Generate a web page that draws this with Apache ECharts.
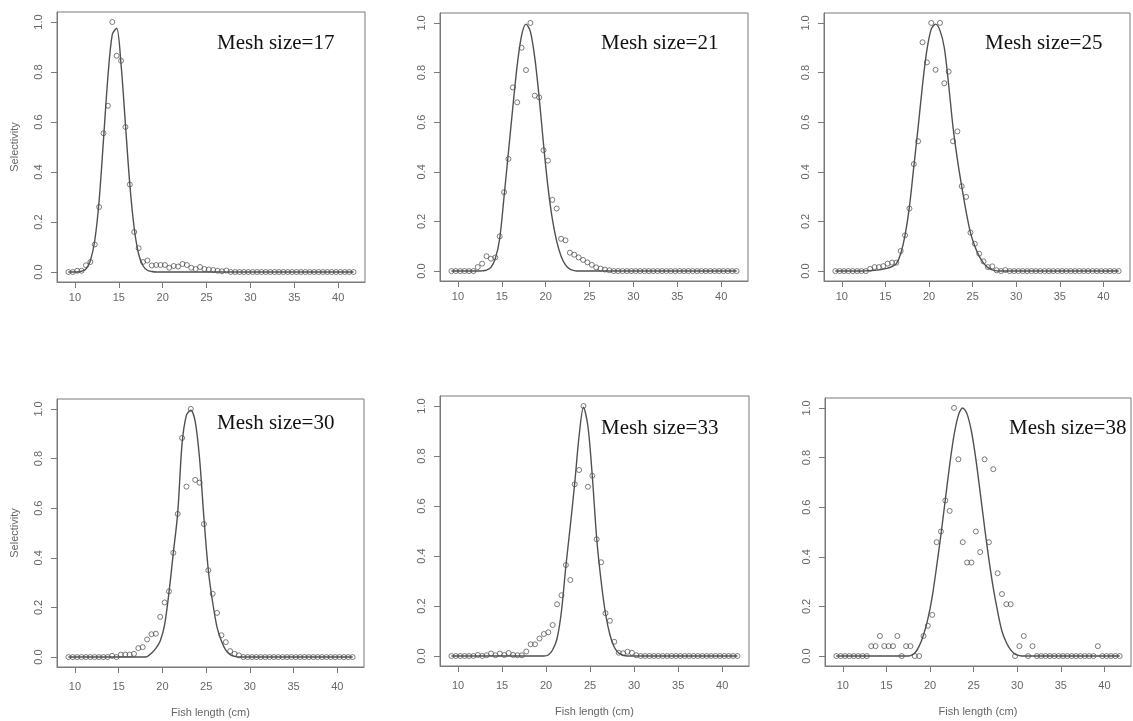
<!DOCTYPE html>
<html>
<head>
<meta charset="utf-8">
<script src="https://cdn.jsdelivr.net/npm/echarts@6/dist/echarts.min.js"></script>
<style>
  html, body { margin: 0; padding: 0; background: #ffffff; }
  #chart { width: 1133px; height: 721px; }
</style>
</head>
<body>
<div id="chart"></div>
<script>
// Fish length classes (cm), mid-points of 0.5 cm bins
const lengths = [
  9.25, 9.75, 10.25, 10.75, 11.25, 11.75, 12.25, 12.75, 13.25, 13.75,
  14.25, 14.75, 15.25, 15.75, 16.25, 16.75, 17.25, 17.75, 18.25, 18.75,
  19.25, 19.75, 20.25, 20.75, 21.25, 21.75, 22.25, 22.75, 23.25, 23.75,
  24.25, 24.75, 25.25, 25.75, 26.25, 26.75, 27.25, 27.75, 28.25, 28.75,
  29.25, 29.75, 30.25, 30.75, 31.25, 31.75, 32.25, 32.75, 33.25, 33.75,
  34.25, 34.75, 35.25, 35.75, 36.25, 36.75, 37.25, 37.75, 38.25, 38.75,
  39.25, 39.75, 40.25, 40.75, 41.25, 41.75
];

const meshSizes = [17, 21, 25, 30, 33, 38];

// Observed relative selectivity per mesh size
const obs17 = [
  0, 0, 0.005, 0.005, 0.027, 0.04, 0.11, 0.26, 0.555, 0.665,
  1.0, 0.865, 0.845, 0.58, 0.35, 0.16, 0.095, 0.04, 0.046, 0.026,
  0.028, 0.028, 0.028, 0.017, 0.024, 0.022, 0.032, 0.028, 0.017, 0.012,
  0.02, 0.012, 0.01, 0.008, 0.005, 0.003, 0.006, 0, 0, 0,
  0, 0, 0, 0, 0, 0, 0, 0, 0, 0,
  0, 0, 0, 0, 0, 0, 0, 0, 0, 0,
  0, 0, 0, 0, 0, 0
];
const obs21 = [
  0, 0, 0, 0, 0, 0, 0.016, 0.03, 0.06, 0.05,
  0.055, 0.14, 0.318, 0.452, 0.74, 0.68, 0.9, 0.81, 1.0, 0.707,
  0.70, 0.487, 0.445, 0.287, 0.252, 0.13, 0.124, 0.074, 0.066, 0.055,
  0.045, 0.035, 0.025, 0.015, 0.01, 0.006, 0.003, 0, 0, 0,
  0, 0, 0, 0, 0, 0, 0, 0, 0, 0,
  0, 0, 0, 0, 0, 0, 0, 0, 0, 0,
  0, 0, 0, 0, 0, 0
];
const obs25 = [
  0, 0, 0, 0, 0, 0, 0, 0, 0.009, 0.016,
  0.016, 0.02, 0.03, 0.034, 0.034, 0.081, 0.144, 0.252, 0.431, 0.523,
  0.922, 0.841, 1.0, 0.811, 1.0, 0.757, 0.804, 0.523, 0.563, 0.342,
  0.299, 0.155, 0.11, 0.07, 0.039, 0.016, 0.019, 0.003, 0, 0.004,
  0, 0, 0, 0, 0, 0, 0, 0, 0, 0,
  0, 0, 0, 0, 0, 0, 0, 0, 0, 0,
  0, 0, 0, 0, 0, 0
];
const obs30 = [
  0, 0, 0, 0, 0, 0, 0, 0, 0, 0,
  0.005, 0, 0.01, 0.01, 0.01, 0.013, 0.036, 0.04, 0.071, 0.092,
  0.094, 0.162, 0.22, 0.265, 0.42, 0.577, 0.883, 0.687, 1.0, 0.714,
  0.703, 0.536, 0.35, 0.255, 0.178, 0.088, 0.06, 0.024, 0.013, 0.007,
  0, 0, 0, 0, 0, 0, 0, 0, 0, 0,
  0, 0, 0, 0, 0, 0, 0, 0, 0, 0,
  0, 0, 0, 0, 0, 0
];
const obs33 = [
  0, 0, 0, 0, 0, 0, 0.004, 0, 0.003, 0.01,
  0.003, 0.01, 0.004, 0.012, 0.004, 0.003, 0.003, 0.018, 0.047, 0.047,
  0.07, 0.088, 0.095, 0.124, 0.207, 0.243, 0.364, 0.304, 0.687, 0.744,
  1.0, 0.677, 0.721, 0.467, 0.375, 0.171, 0.141, 0.057, 0.013, 0.011,
  0.017, 0.013, 0.003, 0, 0, 0, 0, 0, 0, 0,
  0, 0, 0, 0, 0, 0, 0, 0, 0, 0,
  0, 0, 0, 0, 0, 0
];
const obs38 = [
  0, 0, 0, 0, 0, 0, 0, 0, 0.04, 0.04,
  0.081, 0.04, 0.04, 0.04, 0.081, 0, 0.04, 0.04, 0, 0,
  0.081, 0.122, 0.166, 0.459, 0.502, 0.627, 0.585, 1.0, 0.793, 0.459,
  0.377, 0.377, 0.502, 0.419, 0.793, 0.459, 0.753, 0.334, 0.25, 0.209,
  0.209, 0, 0.04, 0.081, 0, 0.04, 0, 0, 0, 0,
  0, 0, 0, 0, 0, 0, 0, 0, 0, 0,
  0.04, 0, 0, 0, 0, 0
];

// Fitted selectivity curves per mesh size
const fit17 = [
  0, 0, 0, 0.003, 0.012, 0.045, 0.125, 0.285, 0.53, 0.78,
  0.95, 0.975, 0.83, 0.59, 0.35, 0.175, 0.072, 0.025, 0.007, 0.002,
  0, 0, 0, 0, 0, 0, 0, 0, 0, 0,
  0, 0, 0, 0, 0, 0, 0, 0, 0, 0,
  0, 0, 0, 0, 0, 0, 0, 0, 0, 0,
  0, 0, 0, 0, 0, 0, 0, 0, 0, 0,
  0, 0, 0, 0, 0, 0
];
const fit21 = [
  0, 0, 0, 0, 0, 0, 0, 0.001, 0.004, 0.015,
  0.05, 0.13, 0.30, 0.48, 0.66, 0.83, 0.95, 0.995, 0.965, 0.86,
  0.70, 0.51, 0.34, 0.21, 0.12, 0.06, 0.025, 0.008, 0.002, 0,
  0, 0, 0, 0, 0, 0, 0, 0, 0, 0,
  0, 0, 0, 0, 0, 0, 0, 0, 0, 0,
  0, 0, 0, 0, 0, 0, 0, 0, 0, 0,
  0, 0, 0, 0, 0, 0
];
const fit25 = [
  0, 0, 0, 0, 0, 0, 0, 0.001, 0.002, 0.003,
  0.005, 0.008, 0.012, 0.018, 0.03, 0.07, 0.145, 0.26, 0.42, 0.58,
  0.75, 0.89, 0.975, 0.995, 0.97, 0.90, 0.75, 0.58, 0.45, 0.34,
  0.24, 0.155, 0.10, 0.06, 0.032, 0.014, 0.005, 0.001, 0, 0,
  0, 0, 0, 0, 0, 0, 0, 0, 0, 0,
  0, 0, 0, 0, 0, 0, 0, 0, 0, 0,
  0, 0, 0, 0, 0, 0
];
const fit30 = [
  0, 0, 0, 0, 0, 0, 0, 0, 0, 0,
  0, 0, 0, 0, 0, 0, 0, 0, 0.002, 0.015,
  0.035, 0.065, 0.13, 0.26, 0.42, 0.58, 0.86, 0.975, 0.995, 0.95,
  0.80, 0.56, 0.35, 0.22, 0.12, 0.065, 0.028, 0.01, 0.003, 0,
  0, 0, 0, 0, 0, 0, 0, 0, 0, 0,
  0, 0, 0, 0, 0, 0, 0, 0, 0, 0,
  0, 0, 0, 0, 0, 0
];
const fit33 = [
  0, 0, 0, 0, 0, 0, 0, 0, 0, 0,
  0, 0, 0, 0, 0, 0, 0, 0, 0, 0,
  0, 0, 0.004, 0.025, 0.07, 0.18, 0.36, 0.52, 0.69, 0.88,
  0.995, 0.92, 0.72, 0.47, 0.30, 0.17, 0.085, 0.035, 0.012, 0.003,
  0, 0, 0, 0, 0, 0, 0, 0, 0, 0,
  0, 0, 0, 0, 0, 0, 0, 0, 0, 0,
  0, 0, 0, 0, 0, 0
];
const fit38 = [
  0, 0, 0, 0, 0, 0, 0, 0, 0, 0,
  0, 0, 0, 0, 0, 0, 0, 0.002, 0.012, 0.04,
  0.085, 0.15, 0.24, 0.36, 0.49, 0.63, 0.77, 0.89, 0.97, 1.0,
  0.975, 0.905, 0.795, 0.66, 0.52, 0.39, 0.275, 0.18, 0.10, 0.055,
  0.025, 0.008, 0.002, 0, 0, 0, 0, 0, 0, 0,
  0, 0, 0, 0, 0, 0, 0, 0, 0, 0,
  0, 0, 0, 0, 0, 0
];

const xTicks = [10, 15, 20, 25, 30, 35, 40];
const yTicks = [0, 0.2, 0.4, 0.6, 0.8, 1.0];
const xTitle = 'Fish length (cm)';
const yTitle = 'Selectivity';

// Panel layout: plotting box in pixels and placement of the mesh-size caption
const panels = [
  { mesh: meshSizes[0], obs: obs17, fit: fit17, row: 0, col: 0, box: [57, 12, 308, 270], cap: [217, 43] },
  { mesh: meshSizes[1], obs: obs21, fit: fit21, row: 0, col: 1, box: [440, 13, 308, 268], cap: [601, 43] },
  { mesh: meshSizes[2], obs: obs25, fit: fit25, row: 0, col: 2, box: [824, 13, 306, 268], cap: [985, 43] },
  { mesh: meshSizes[3], obs: obs30, fit: fit30, row: 1, col: 0, box: [57, 399, 307, 268], cap: [217, 423] },
  { mesh: meshSizes[4], obs: obs33, fit: fit33, row: 1, col: 1, box: [440, 396, 309, 270], cap: [601, 428] },
  { mesh: meshSizes[5], obs: obs38, fit: fit38, row: 1, col: 2, box: [825, 398, 306, 268], cap: [1009, 428] }
];

const axisGray = '#7a7a7a';
const labelGray = '#666666';
const sans = '"Liberation Sans", Arial, sans-serif';

const option = {
  animation: false,
  backgroundColor: '#ffffff',
  grid: panels.map(p => ({
    left: p.box[0], top: p.box[1], width: p.box[2], height: p.box[3],
    show: true, borderColor: axisGray, borderWidth: 1, backgroundColor: 'transparent'
  })),
  xAxis: panels.map((p, i) => ({
    type: 'value', gridIndex: i, min: 7.95, max: 43.05,
    axisLine: { show: true, onZero: false, lineStyle: { color: axisGray, width: 1 } },
    splitLine: { show: false },
    axisTick: { show: true, customValues: xTicks, length: 6, lineStyle: { color: axisGray } },
    axisLabel: {
      customValues: xTicks, color: labelGray, fontSize: 11, fontFamily: sans,
      margin: p.row === 0 ? 10 : 14
    },
    name: p.row === 1 ? xTitle : '',
    nameLocation: 'middle', nameGap: 40,
    nameTextStyle: { color: labelGray, fontSize: 11, fontFamily: sans }
  })),
  yAxis: panels.map((p, i) => ({
    type: 'value', gridIndex: i, min: -0.04, max: 1.04,
    axisLine: { show: true, onZero: false, lineStyle: { color: axisGray, width: 1 } },
    splitLine: { show: false },
    axisTick: { show: true, customValues: yTicks, length: 6, lineStyle: { color: axisGray } },
    axisLabel: {
      customValues: yTicks, rotate: 90, color: labelGray, fontSize: 11, fontFamily: sans,
      margin: 13, formatter: v => v.toFixed(1)
    },
    name: p.col === 0 ? yTitle : '',
    nameLocation: 'middle', nameGap: 37, nameRotate: 90,
    nameTextStyle: { color: labelGray, fontSize: 11, fontFamily: sans }
  })),
  series: panels.flatMap((p, i) => [
    {
      type: 'scatter', xAxisIndex: i, yAxisIndex: i, silent: true,
      data: lengths.map((x, k) => [x, p.obs[k]]),
      symbol: 'circle', symbolSize: 5,
      itemStyle: { color: 'rgba(0,0,0,0)', borderColor: '#4a4a4a', borderWidth: 0.9 },
      z: 3
    },
    {
      type: 'line', xAxisIndex: i, yAxisIndex: i, silent: true,
      data: lengths.map((x, k) => [x, p.fit[k]]),
      showSymbol: false, smooth: 0.3,
      lineStyle: { color: '#505050', width: 1.4 },
      z: 4
    }
  ]),
  graphic: panels.map(p => ({
    type: 'text', x: p.cap[0], y: p.cap[1], z: 10,
    style: {
      text: 'Mesh size=' + p.mesh,
      font: '21px "Liberation Serif", "Times New Roman", serif',
      fill: '#111111', align: 'left', verticalAlign: 'middle'
    }
  }))
};

const chart = echarts.init(document.getElementById('chart'), null, { renderer: 'canvas' });
chart.setOption(option);
</script>
</body>
</html>
